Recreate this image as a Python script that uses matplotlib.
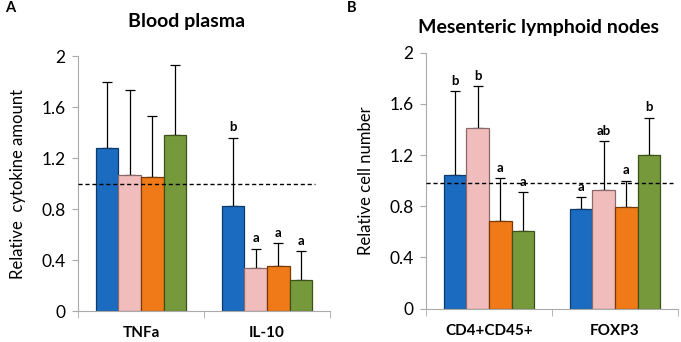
import matplotlib.pyplot as plt
import numpy as np

plt.rcParams['font.family'] = ['Lato', 'DejaVu Sans']

colors = ['#1b6cc0', '#f0bcbc', '#ef7a17', '#76993b']
edges = ['#0d3a6a', '#8a6a6a', '#7a3a08', '#3c5218']

# Panel A: blood plasma
cats_a = ['TNFa', 'IL-10']
means_a = [[1.28, 0.82], [1.07, 0.34], [1.05, 0.355], [1.38, 0.24]]
errs_a = [[0.52, 0.54], [0.66, 0.15], [0.48, 0.175], [0.55, 0.23]]
letters_a = [['', 'b'], ['', 'a'], ['', 'a'], ['', 'a']]

# Panel B: mesenteric lymphoid nodes
cats_b = ['CD4+CD45+', 'FOXP3']
means_b = [[1.045, 0.775], [1.41, 0.93], [0.685, 0.795], [0.61, 1.20]]
errs_b = [[0.655, 0.095], [0.33, 0.38], [0.335, 0.205], [0.30, 0.29]]
letters_b = [['b', 'a'], ['b', 'ab'], ['a', 'a'], ['a', 'b']]

yticks = [0, 0.4, 0.8, 1.2, 1.6, 2.0]
ytick_labels = ['0', '0.4', '0.8', '1.2', '1.6', '2']

fig = plt.figure(figsize=(6.81, 3.42), dpi=100)
ax_a = fig.add_axes([0.1145, 0.0906, 0.370, 0.7456])
ax_b = fig.add_axes([0.6256, 0.0974, 0.370, 0.7485])


def draw(ax, cats, means, errs, letters, ref, ref_end):
    w = 0.18
    x = np.arange(len(cats))
    for i in range(4):
        xs = x + (i - 1.5) * w
        ax.errorbar(xs, means[i], yerr=[np.zeros(len(cats)), errs[i]], fmt='none',
                    ecolor='black', elinewidth=0.9, capsize=3.5, capthick=0.9, zorder=1)
        ax.bar(xs, means[i], width=w, color=colors[i], edgecolor=edges[i],
               linewidth=0.9, zorder=2)
        for j in range(len(cats)):
            if letters[i][j]:
                ax.text(xs[j], means[i][j] + errs[i][j] + 0.035, letters[i][j],
                        ha='center', va='bottom', fontsize=9.5, fontweight='bold')
    ax.axhline(ref, xmin=0, xmax=ref_end, color='black', linestyle='--',
               linewidth=1.0, dashes=(3, 2), zorder=3)
    ax.set_xlim(-0.5, len(cats) - 0.5)
    ax.set_ylim(0, 2)
    ax.set_yticks(yticks)
    ax.set_yticklabels(ytick_labels, fontsize=12.5)
    ax.set_xticks(x)
    ax.set_xticklabels(cats, fontsize=11, fontweight='bold')
    ax.tick_params(axis='x', length=0, pad=11)
    ax.set_xticks([-0.5, 0.5, 1.5], minor=True)
    ax.tick_params(axis='x', which='minor', length=5, color='#aaaaaa', direction='out')
    ax.tick_params(axis='y', length=4, color='#aaaaaa', pad=5)
    for s in ['top', 'right']:
        ax.spines[s].set_visible(False)
    for s in ['left', 'bottom']:
        ax.spines[s].set_color('#aaaaaa')


draw(ax_a, cats_a, means_a, errs_a, letters_a, 1.0, 0.94)
draw(ax_b, cats_b, means_b, errs_b, letters_b, 0.98, 0.98)

ax_a.set_ylabel('Relative  cytokine amount', fontsize=12, labelpad=11)
ax_b.set_ylabel('Relative cell number', fontsize=12, labelpad=11)

fig.text(187 / 681, 1 - 22 / 342, 'Blood plasma', ha='center', va='center',
         fontsize=14, fontweight='bold')
fig.text(538 / 681, 1 - 28 / 342, 'Mesenteric lymphoid nodes', ha='center', va='center',
         fontsize=14, fontweight='bold')
fig.text(5 / 681, 1 - 8 / 342, 'A', ha='left', va='center', fontsize=10.5, fontweight='bold')
fig.text(347 / 681, 1 - 8 / 342, 'B', ha='left', va='center', fontsize=10.5, fontweight='bold')

fig.savefig('out.png', dpi=100)
